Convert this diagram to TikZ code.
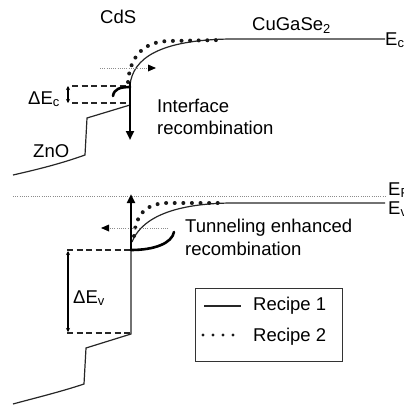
\documentclass[tikz,border=0pt]{standalone}
\usepackage{fontspec}
\setmainfont{Liberation Sans}
\usetikzlibrary{arrows.meta}
\tikzset{
  lbl/.style={font=\fontsize{18.5}{22.5}\selectfont, inner sep=0pt},
  band/.style={line width=1.2pt, draw=black!85},
  recipetwo/.style={line width=4pt, line cap=round, dash pattern=on 0pt off 8.6pt, draw=black!90},
  fine/.style={line width=0.9pt, draw=black!45, dash pattern=on 0.9pt off 1.3pt},
  offset/.style={line width=1.1pt, draw=black!85, dash pattern=on 6pt off 3.5pt},
  heavy/.style={line width=2.6pt, draw=black},
  heavyarrow/.style={heavy, -{Triangle[length=9pt,width=8pt]}},
  gap/.style={line width=1.1pt, {Stealth[length=4pt,width=4pt]}-{Stealth[length=4pt,width=4pt]}},
  hop/.style={fine, -{Triangle[length=8pt,width=7pt,color=black,line width=0pt]}}
}
\begin{document}
\begin{tikzpicture}[x=1pt,y=-1pt]
\useasboundingbox (0,0) rectangle (404,405);

% ---------------- conduction band ----------------
\coordinate (cI) at (130,85);
\coordinate (cR) at (385,39);
\draw[band] (cI) .. controls (133,58) and (160,40) .. (230,39) -- (cR);
\draw[recipetwo] (128,82) .. controls (130,58) and (142,42) .. (168,41) -- (222,40);
\coordinate (cS) at (130,105);
\coordinate (cK) at (87,118);
\coordinate (cZ) at (85,155);
\coordinate (cL) at (13,175);
\draw[band] (cI) -- (cS) -- (cK) -- (cZ) .. controls (60,164) and (35,170) .. (cL);

% conduction band offset
\coordinate (dc1) at (72,86);  \coordinate (dc1e) at (126,86);
\coordinate (dc2) at (72,103); \coordinate (dc2e) at (128,103);
\draw[offset] (dc1) -- (dc1e);
\draw[offset] (dc2) -- (dc2e);
\coordinate (ga) at (68,86); \coordinate (gb) at (68,103);
\draw[gap] (ga) -- (gb);
\node[lbl, anchor=base west] (dEc) at (28,104) {ΔE\textsubscript{c}};

% interface recombination path
\coordinate (hA) at (100,68); \coordinate (hB) at (156,68);
\draw[hop] (hA) -- (hB);
\coordinate (kA) at (113,96); \coordinate (kB) at (130,87);
\draw[heavy, line cap=round] (kA) .. controls (114,89) and (120,87) .. (kB);
\coordinate (vA) at (130,82); \coordinate (vB) at (130,140);
\draw[heavyarrow] (vA) -- (vB);

% labels, upper half
\node[lbl, anchor=base west] (cds) at (100,23.5) {CdS};
\node[lbl, anchor=base west] (cgs) at (252,30.5) {CuGaSe\textsubscript{2}};
\node[lbl, anchor=base west] (ec) at (385,45) {E\textsubscript{c}};
\node[lbl, anchor=base west] (zno) at (33,157) {ZnO};
\node[lbl, anchor=base west] (ir1) at (157,112) {Interface};
\node[lbl, anchor=base west] (ir2) at (157,134.5) {recombination};

% ---------------- Fermi level and valence band ----------------
\coordinate (fL) at (13,196); \coordinate (fR) at (385,196);
\draw[fine] (fL) -- (fR);
\node[lbl, anchor=base west] (ef) at (388,195) {E\textsubscript{F}};

\coordinate (vI) at (132,242);
\coordinate (vR) at (385,203);
\draw[band] (vI) .. controls (140,222) and (165,204) .. (230,203) -- (vR);
\draw[recipetwo] (134,236) .. controls (136,214) and (146,204) .. (166,203) -- (222,203);
\node[lbl, anchor=base west] (evl) at (388,214) {E\textsubscript{v}};

\coordinate (vJ) at (131,250);
\coordinate (vS) at (131,334);
\coordinate (vK) at (86,348);
\coordinate (vZ) at (84,384);
\coordinate (vL) at (13,404);
\draw[band] (vJ) -- (vS) -- (vK) -- (vZ) .. controls (60,392) and (35,398) .. (vL);

% valence band offset
\coordinate (dv1) at (67,250);  \coordinate (dv1e) at (131,250);
\coordinate (dv2) at (67,333);  \coordinate (dv2e) at (131,333);
\draw[offset] (dv1) -- (dv1e);
\draw[offset] (dv2) -- (dv2e);
\coordinate (gc) at (68,251); \coordinate (gd) at (68,332);
\draw[gap] (gc) -- (gd);
\node[lbl, anchor=base west] (dEv) at (73,303) {ΔE\textsubscript{v}};

% tunneling enhanced recombination path
\coordinate (tA) at (168,228); \coordinate (tB) at (101,228);
\draw[hop] (tA) -- (tB);
\coordinate (uA) at (131,250); \coordinate (uB) at (174,232);
\draw[heavy, line cap=round] (uA) .. controls (155,250) and (172,243) .. (uB);
\coordinate (wA) at (131,251); \coordinate (wB) at (131,194);
\draw[heavyarrow] (wA) -- (wB);

\node[lbl, anchor=base west] (tr1) at (185,232) {Tunneling enhanced};
\node[lbl, anchor=base west] (tr2) at (185,255) {recombination};

% ---------------- legend ----------------
\node[draw=black!80, line width=1.3pt, minimum width=147pt, minimum height=73pt,
      inner sep=0pt, anchor=north west] (key) at (195,288) {};
\coordinate (s1a) at (204,306); \coordinate (s1b) at (241,306);
\draw[band] (s1a) -- (s1b);
\coordinate (s2a) at (203,335); \coordinate (s2b) at (234,335);
\draw[line width=3.4pt, line cap=round, dash pattern=on 0pt off 10pt, draw=black!90] (s2a) -- (s2b);
\node[lbl, anchor=base west] (r1) at (253,310) {Recipe 1};
\node[lbl, anchor=base west] (r2) at (253,341) {Recipe 2};
\end{tikzpicture}
\end{document}
